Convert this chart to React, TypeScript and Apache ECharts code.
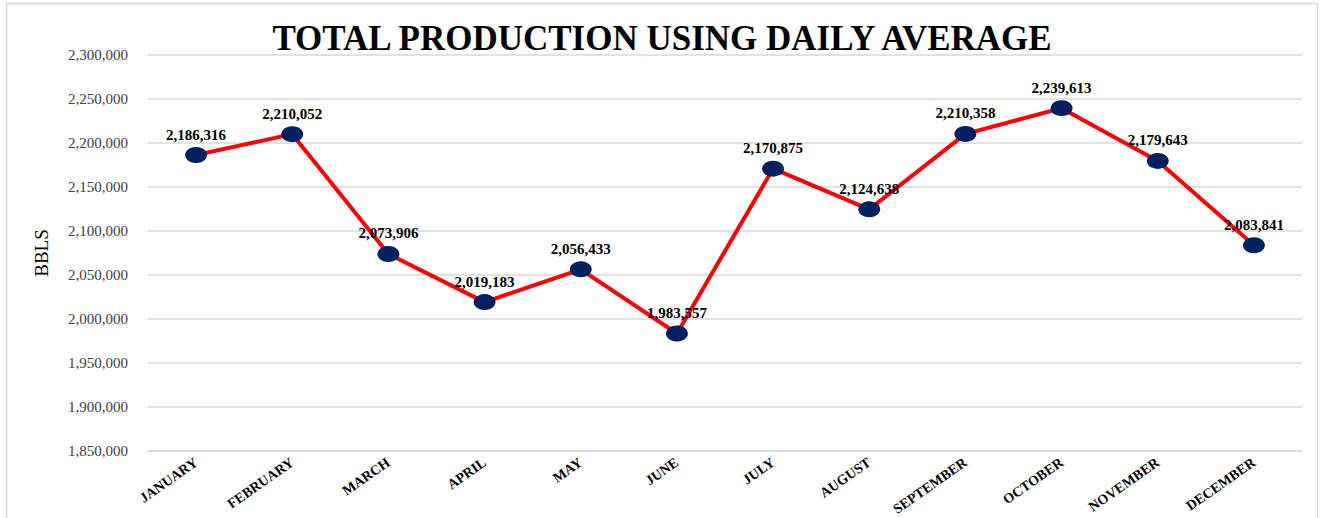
import React, { useEffect, useRef } from "react";
import * as echarts from "echarts";

const months = [
  "JANUARY", "FEBRUARY", "MARCH", "APRIL", "MAY", "JUNE",
  "JULY", "AUGUST", "SEPTEMBER", "OCTOBER", "NOVEMBER", "DECEMBER",
];
const production = [
  2186316, 2210052, 2073906, 2019183, 2056433, 1983557,
  2170875, 2124638, 2210358, 2239613, 2179643, 2083841,
];
const yMin = 1850000;
const yMax = 2300000;
const yStep = 50000;

const fmt = (v: number) => v.toLocaleString("en-US");

export default function App() {
  const ref = useRef<HTMLDivElement>(null);
  useEffect(() => {
    if (!ref.current) return;
    const chart = echarts.init(ref.current, null, { renderer: "svg" });
    chart.setOption({
      animation: false,
      backgroundColor: "#ffffff",
      title: {
        text: "TOTAL PRODUCTION USING DAILY AVERAGE",
        left: "center",
        top: 16,
        textStyle: {
          fontFamily: "Liberation Serif",
          fontWeight: "bold",
          fontSize: 35,
          color: "#000000",
        },
      },
      graphic: [
        {
          type: "rect",
          shape: { x: 6.5, y: 3.5, width: 1311, height: 540 },
          style: { fill: "none", stroke: "#d9d9d9", lineWidth: 1.5 },
          silent: true,
        },
      ],
      grid: { left: 148, right: 22, top: 55, bottom: 67 },
      xAxis: {
        type: "category",
        data: months,
        boundaryGap: true,
        axisLine: { show: true, lineStyle: { color: "#d9d9d9", width: 1.5 } },
        axisTick: { show: false },
        axisLabel: {
          rotate: 35,
          interval: 0,
          margin: 10,
          fontFamily: "Liberation Serif",
          fontWeight: "bold",
          fontSize: 14,
          color: "#000000",
        },
      },
      yAxis: {
        type: "value",
        min: yMin,
        max: yMax,
        interval: yStep,
        name: "BBLS",
        nameLocation: "middle",
        nameGap: 97,
        nameTextStyle: {
          fontFamily: "Liberation Serif",
          fontSize: 19,
          color: "#000000",
        },
        axisLine: { show: false },
        axisTick: { show: false },
        splitLine: { lineStyle: { color: "#d9d9d9", width: 1.5 } },
        axisLabel: {
          formatter: (v: number) => fmt(v),
          fontFamily: "Liberation Serif",
          fontSize: 15,
          color: "#404040",
          margin: 20,
        },
      },
      series: [
        {
          type: "line",
          data: production,
          symbol: "circle",
          symbolSize: [22, 16],
          lineStyle: { color: "#ff0000", width: 4 },
          itemStyle: { color: "#002060", borderWidth: 0 },
          label: {
            show: true,
            position: "top",
            distance: 5,
            formatter: (p: any) => fmt(p.value),
            fontFamily: "Liberation Serif",
            fontWeight: "bold",
            fontSize: 15,
            color: "#000000",
          },
          z: 3,
        },
      ],
    });
    return () => chart.dispose();
  }, []);
  return (
    <div
      ref={ref}
      style={{ position: "fixed", left: 0, top: 0, width: 1324, height: 518, background: "#fff" }}
    />
  );
}
